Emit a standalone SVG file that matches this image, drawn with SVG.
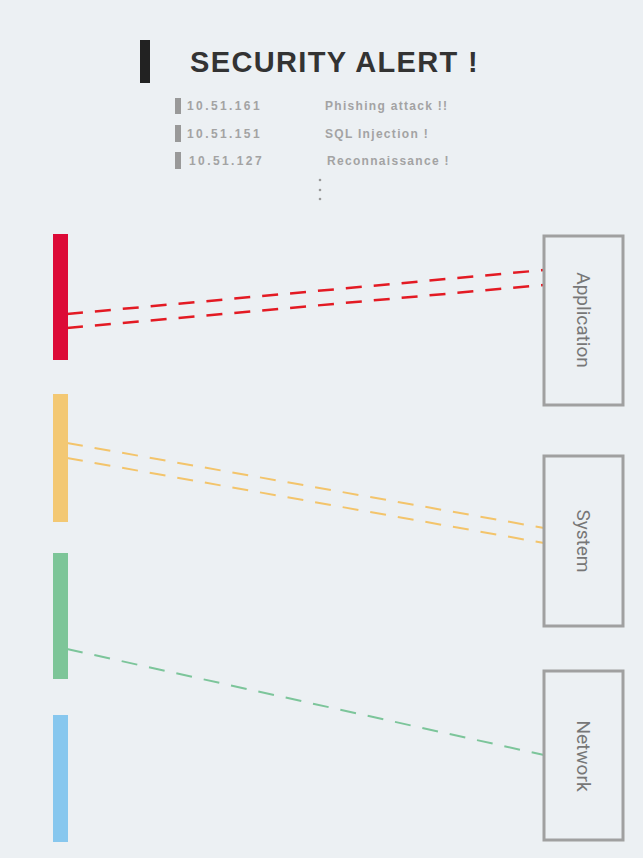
<svg xmlns="http://www.w3.org/2000/svg" width="643" height="858" viewBox="0 0 643 858">
<style>
.title{font-family:"Liberation Sans",Arial,sans-serif;font-weight:bold;font-size:29px;fill:#333;letter-spacing:1.35px}
.item{font-family:"Liberation Sans",Arial,sans-serif;font-weight:bold;font-size:12px;fill:#a3a3a3;letter-spacing:1.3px}
.ip{letter-spacing:2.4px}
.box{fill:#ecf0f3;stroke:#a0a0a0;stroke-width:3}
.lbl{font-family:Roboto,"Liberation Sans",sans-serif;font-size:19px;fill:#777;text-anchor:middle}
.dash{fill:none;stroke-dasharray:16 12}
.gbar{fill:#999}
</style>
<rect x="0" y="0" width="643" height="858" fill="#ecf0f3"/>
<g id="header">
<rect x="140" y="40" width="10" height="43" fill="#222"/>
<text class="title" x="190" y="72">SECURITY ALERT !</text>
<rect class="gbar" x="175" y="98" width="6" height="16"/>
<text class="item ip" x="187" y="110">10.51.161</text>
<text class="item" x="325" y="110">Phishing attack !!</text>
<rect class="gbar" x="175" y="125" width="6" height="17"/>
<text class="item ip" x="187" y="138">10.51.151</text>
<text class="item" x="325" y="138">SQL Injection !</text>
<rect class="gbar" x="175" y="152" width="6" height="17"/>
<text class="item ip" x="189" y="165">10.51.127</text>
<text class="item" x="327" y="165">Reconnaissance !</text>
<circle cx="320" cy="180" r="1.3" fill="#999"/>
<circle cx="320" cy="190" r="1.3" fill="#999"/>
<circle cx="320" cy="199" r="1.3" fill="#999"/>
</g>
<g id="connectors">
<line class="dash" x1="67" y1="314" x2="544" y2="270" stroke="#e31a23" stroke-width="2.5"/>
<line class="dash" x1="67" y1="328" x2="544" y2="285" stroke="#e31a23" stroke-width="2.5"/>
<line class="dash" x1="67" y1="443" x2="544" y2="528" stroke="#f3c46b" stroke-width="2"/>
<line class="dash" x1="67" y1="458" x2="544" y2="543" stroke="#f3c46b" stroke-width="2"/>
<line class="dash" x1="67" y1="649" x2="544" y2="755" stroke="#7cc59a" stroke-width="2"/>
</g>
<g id="bar-red"><rect x="53" y="234" width="15" height="126" fill="#dc0a37"/></g>
<g id="bar-orange"><rect x="53" y="394" width="15" height="128" fill="#f3c873"/></g>
<g id="bar-green"><rect x="53" y="553" width="15" height="126" fill="#7dc598"/></g>
<g id="bar-blue"><rect x="53" y="715" width="15" height="127" fill="#87c7ee"/></g>
<g id="node-application">
<rect class="box" x="544" y="236" width="79" height="169"/>
<text class="lbl" transform="translate(577,320) rotate(90)">Application</text>
</g>
<g id="node-system">
<rect class="box" x="544" y="456" width="79" height="170"/>
<text class="lbl" transform="translate(577,541) rotate(90)">System</text>
</g>
<g id="node-network">
<rect class="box" x="544" y="671" width="79" height="169"/>
<text class="lbl" transform="translate(577,756) rotate(90)">Network</text>
</g>
</svg>
